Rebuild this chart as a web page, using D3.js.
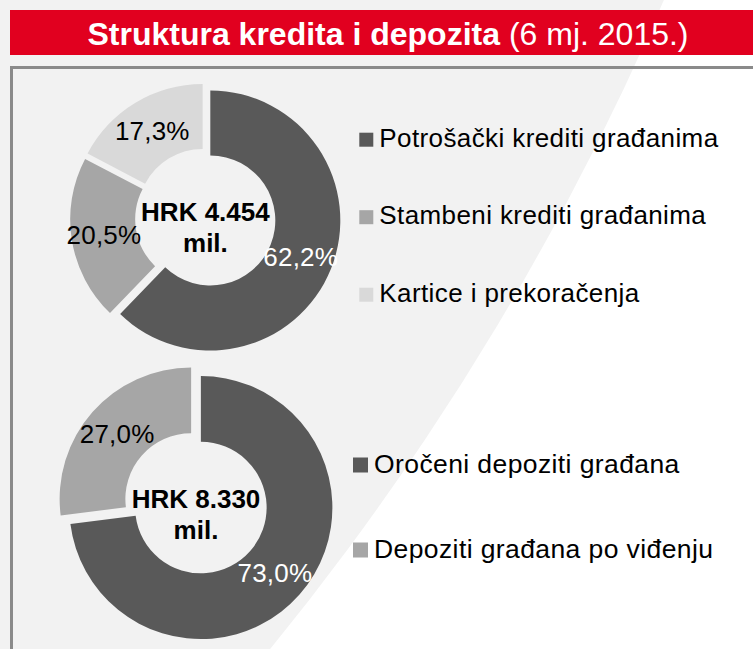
<!DOCTYPE html>
<html>
<head>
<meta charset="utf-8">
<script src="https://cdn.jsdelivr.net/npm/d3@7"></script>
<style>
  body { margin: 0; background: #fff; }
  svg { display: block; }
  text { font-family: "Liberation Sans", Arial, Helvetica, sans-serif; }
</style>
</head>
<body>
<div id="chart"></div>
<script>
// --- 1. DATA ---
var kreditiKategorije = ["Potrošački krediti građanima", "Stambeni krediti građanima", "Kartice i prekoračenja"];
var kreditiUdjeli = [62.2, 20.5, 17.3];
var depozitiKategorije = ["Oročeni depoziti građana", "Depoziti građana po viđenju"];
var depozitiUdjeli = [73.0, 27.0];
var ukupniIznosi = [4454, 8330]; // HRK mil.
var nijanse = ["#595959", "#a6a6a6", "#d9d9d9"];

// --- 2. SETUP ---
var width = 753, height = 649;
var hr = d3.formatLocale({ decimal: ",", thousands: ".", grouping: [3], currency: ["", ""] });
var fmtPct = hr.format(".1f");
var fmtTotal = hr.format(",");

var svg = d3.select("#chart").append("svg")
  .attr("width", width)
  .attr("height", height);

// background: light grey with a white swoosh on the right
svg.append("rect").attr("width", width).attr("height", height).attr("fill", "#ffffff");
svg.append("circle")
  .attr("cx", -1853).attr("cy", -1083).attr("r", 2740)
  .attr("fill", "#f2f2f2");

// title bar
svg.append("rect")
  .attr("x", 10).attr("y", 10)
  .attr("width", width - 10).attr("height", 45)
  .attr("fill", "#e1001f");

var title = svg.append("text")
  .attr("x", 388).attr("y", 45)
  .attr("text-anchor", "middle")
  .attr("fill", "#fff")
  .attr("font-size", 32);
title.append("tspan").attr("font-weight", "bold").text("Struktura kredita i depozita ");
title.append("tspan").text("(6 mj. 2015.)");

// frame (open to the right and bottom)
svg.append("path")
  .attr("d", "M" + (width + 5) + ",67.5H11.5V" + (height + 5))
  .attr("fill", "none")
  .attr("stroke", "#8a8a8a")
  .attr("stroke-width", 3);

// --- 3. DONUTS ---
var charts = [
  { cats: kreditiKategorije, vals: kreditiUdjeli, total: ukupniIznosi[0],
    cx: 205.4, cy: 218.5, R: 130, explode: 5.3, totalDy: 2,
    legendX: 359.3, legendY: 146.7, legendStep: 77.5, sq: 14, fs: 26 },
  { cats: depozitiKategorije, vals: depozitiUdjeli, total: ukupniIznosi[1],
    cx: 196, cy: 503.3, R: 131.5, explode: 6.5, totalDy: 5,
    legendX: 353, legendY: 472.5, legendStep: 85, sq: 15, fs: 26.5 }
];

var pie = d3.pie().sort(null).value(function(d) { return d; });

charts.forEach(function(c) {
  var arc = d3.arc().innerRadius(c.R * 0.5).outerRadius(c.R);
  var g = svg.append("g").attr("transform", "translate(" + c.cx + "," + c.cy + ")");
  var slices = pie(c.vals);

  // exploded slices: each pushed out along its bisector
  function shift(d, k) {
    var a = (d.startAngle + d.endAngle) / 2;
    return [Math.sin(a) * k, -Math.cos(a) * k];
  }

  g.selectAll("path.slice")
    .data(slices)
    .enter().append("path")
    .attr("class", "slice")
    .attr("d", arc)
    .attr("fill", function(d, i) { return nijanse[i]; })
    .attr("transform", function(d) { return "translate(" + shift(d, c.explode) + ")"; });

  g.selectAll("text.pct")
    .data(slices)
    .enter().append("text")
    .attr("class", "pct")
    .attr("x", function(d) { return arc.centroid(d)[0] + shift(d, c.explode)[0]; })
    .attr("y", function(d) { return arc.centroid(d)[1] + shift(d, c.explode)[1]; })
    .attr("dy", "0.36em")
    .attr("text-anchor", "middle")
    .attr("font-size", 26)
    .attr("letter-spacing", 0.2)
    .attr("fill", function(d, i) { return i === 0 ? "#fff" : "#000"; })
    .text(function(d) { return fmtPct(d.data) + "%"; });

  // total in the hole
  g.append("text")
    .attr("y", c.totalDy)
    .attr("text-anchor", "middle")
    .attr("font-size", 26).attr("font-weight", "bold")
    .text("HRK " + fmtTotal(c.total));
  g.append("text")
    .attr("y", c.totalDy + 31)
    .attr("text-anchor", "middle")
    .attr("font-size", 26).attr("font-weight", "bold")
    .text("mil.");

  // legend
  var leg = svg.selectAll(null)
    .data(c.cats)
    .enter().append("g")
    .attr("transform", function(d, i) { return "translate(" + c.legendX + "," + (c.legendY + i * c.legendStep) + ")"; });
  leg.append("rect")
    .attr("y", -c.sq).attr("width", c.sq).attr("height", c.sq)
    .attr("fill", function(d, i) { return nijanse[i]; });
  leg.append("text")
    .attr("x", c.sq + 6)
    .attr("font-size", c.fs)
    .attr("letter-spacing", 0.4)
    .attr("fill", "#000")
    .text(function(d) { return d; });
});
</script>
</body>
</html>
